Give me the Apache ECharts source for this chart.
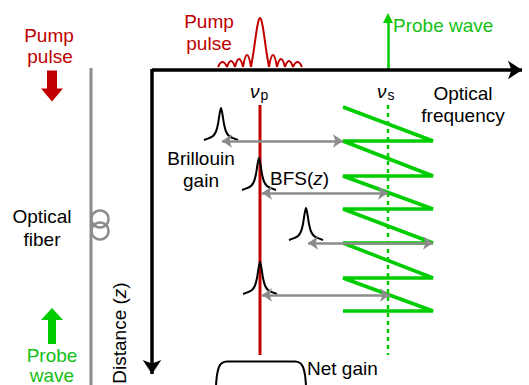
<!DOCTYPE html>
<html>
<head>
<meta charset="utf-8">
<script src="https://cdn.jsdelivr.net/npm/echarts@6/dist/echarts.min.js"></script>
<style>
html, body { margin: 0; padding: 0; background: #fff; }
#bfs { width: 529px; height: 385px; }
</style>
</head>
<body>
<div id="bfs"></div>
<script>
// sketch units = pixels of the figure, y grows downwards
var freqAxis = [[152, 70], [522, 70]];
var distAxis = [[152, 69], [152, 374]];
var fiber = [[91, 68], [91, 386]];
var fiberLoops = [[100, 219], [100, 231]];
var pumpArrowAt = [[52, 86]];
var probeArrowAt = [[52, 326]];
var probeLine = [[388, 69], [388, 18]];
var pumpFreq = [[260, 105], [260, 355]];
var probeFreq = [[388, 105], [388, 355]];

// probe wave sweeping in frequency along the fibre
var probeSweep = [
  [343, 107], [433, 141], [343, 141], [433, 176], [343, 176], [433, 209],
  [343, 209], [433, 243], [343, 243], [433, 278], [343, 278], [433, 311], [343, 311]
];

// BFS(z) arrows: from gain peak to probe position
var bfsArrows = [
  [[222, 141], [343, 141]],
  [[262, 193], [388, 193]],
  [[308, 243], [433, 243]],
  [[262, 295], [390, 295]]
];

// Brillouin gain spectra (centre, base) and their common profile
var gainCentres = [221, 259, 306, 260];
var gainBases = [140, 190, 240, 294];
var gainShape = [
  [-17, 0], [-12, 1.8], [-8, 4], [-5, 8.5], [-3, 16], [-1.5, 25.5], [0, 32],
  [1.5, 25.5], [3, 16], [5, 8.5], [8, 4], [12, 1.8], [17, 0]
];

// pump pulse spectrum, lobe by lobe
var pulseLobes = [
  [[218, 67], [222.5, 62], [227, 67]],
  [[227, 67], [231, 61], [235, 67]],
  [[235, 67], [239, 59], [243, 67]],
  [[243, 67], [247, 55], [251, 67]],
  [[251, 67], [253.5, 52], [255.8, 36], [258, 23], [260, 18], [262, 23], [264.2, 36], [266.5, 52], [269, 67]],
  [[269, 67], [273, 55], [277, 67]],
  [[277, 67], [281, 59], [285, 67]],
  [[285, 67], [289, 61], [293, 67]],
  [[293, 67], [297.5, 62], [302, 67]]
];

var netGain = [
  [216, 386], [217, 375], [219, 367], [222, 363], [227, 361.5],
  [295, 361.5], [300, 363], [303, 367], [305, 375], [306, 386]
];

var RED = '#c00000', GREEN = '#00cc00', GREEN_TXT = '#14bf14', GRAY = '#8c8c8c';
var FONT = '"Liberation Sans", Arial, sans-serif';

var gainData = [];
gainCentres.forEach(function (c, i) {
  gainShape.forEach(function (p) { gainData.push([c + p[0], gainBases[i] - p[1]]); });
  gainData.push([c, '-']);
});
var pulseData = [];
pulseLobes.forEach(function (lobe) {
  lobe.forEach(function (p) { pulseData.push(p); });
  pulseData.push([lobe[lobe.length - 1][0], '-']);
});

function txt(x, y, s, color, extra) {
  var style = { text: s, x: 0, y: 0, fill: color || '#000', font: '19px ' + FONT,
    align: 'center', verticalAlign: 'middle' };
  for (var k in extra || {}) style[k] = extra[k];
  return { type: 'text', x: x, y: y, style: style, z: 20 };
}

var chart = echarts.init(document.getElementById('bfs'), null, { renderer: 'svg' });
var option = {
  animation: false,
  grid: { left: 0, right: 0, top: 0, bottom: 0 },
  xAxis: { type: 'value', min: 0, max: 529, show: false },
  yAxis: { type: 'value', min: 0, max: 385, inverse: true, show: false },
  series: [
    { type: 'line', data: fiber, showSymbol: false, lineStyle: { color: GRAY, width: 3 } },
    { type: 'scatter', data: fiberLoops, symbol: 'circle', symbolSize: 17,
      itemStyle: { color: 'rgba(0,0,0,0)', borderColor: GRAY, borderWidth: 2.5, opacity: 1 } },
    { type: 'scatter', data: pumpArrowAt, symbolSize: [22, 31],
      symbol: 'path://M6,0 L16,0 L16,18 L22,18 L11,31 L0,18 L6,18 Z', itemStyle: { color: RED, opacity: 1 } },
    { type: 'scatter', data: probeArrowAt, symbolSize: [22, 36], symbolRotate: 180,
      symbol: 'path://M7,0 L15,0 L15,24 L22,24 L11,36 L0,24 L7,24 Z', itemStyle: { color: GREEN, opacity: 1 } },
    { type: 'line', data: pulseData, showSymbol: false, smooth: 0.5, connectNulls: false,
      lineStyle: { color: RED, width: 2 } },
    { type: 'line', data: pumpFreq, showSymbol: false, lineStyle: { color: RED, width: 3 } },
    { type: 'line', data: probeFreq, showSymbol: false, lineStyle: { color: GREEN, width: 2.5, type: [4, 4] } },
    { type: 'line', data: probeSweep, showSymbol: false, lineStyle: { color: GREEN, width: 3.5, join: 'bevel' } },
    { type: 'line', data: gainData, showSymbol: false, smooth: 0.3, connectNulls: false, z: 4,
      lineStyle: { color: '#000', width: 2 } },
    { type: 'line', data: netGain, showSymbol: false, smooth: 0.3, lineStyle: { color: '#000', width: 2 } },
    { type: 'lines', coordinateSystem: 'cartesian2d', symbol: ['arrow', 'arrow'], symbolSize: 10, z: 6,
      lineStyle: { color: GRAY, width: 2.5, opacity: 1 },
      data: bfsArrows.map(function (a) { return { coords: a }; }) },
    { type: 'lines', coordinateSystem: 'cartesian2d', symbol: ['none', 'triangle'], symbolSize: 10,
      lineStyle: { color: GREEN, width: 2.5, opacity: 1 }, data: [{ coords: probeLine }] },
    { type: 'lines', coordinateSystem: 'cartesian2d', symbol: ['none', 'arrow'], symbolSize: 14, z: 7,
      lineStyle: { color: '#000', width: 3.5, opacity: 1 },
      data: [{ coords: freqAxis }, { coords: distAxis }] }
  ],
  graphic: [
    txt(49, 35, 'Pump', RED), txt(50, 56, 'pulse', RED),
    txt(42, 216, 'Optical'), txt(42, 239, 'fiber'),
    txt(52, 365, 'Probe\nwave', GREEN_TXT, { lineHeight: 20 }),
    { type: 'text', x: 119, y: 333, rotation: Math.PI / 2, z: 20,
      style: { text: 'Distance ({i|z})', fill: '#000', font: '19px ' + FONT, align: 'center', verticalAlign: 'middle',
        rich: { i: { font: 'italic 19px ' + FONT, fill: '#000' } } } },
    txt(209, 21, 'Pump', RED), txt(209, 43, 'pulse', RED),
    txt(393, 25, 'Probe wave', GREEN_TXT, { align: 'left' }),
    { type: 'text', x: 250, y: 91, z: 20,
      style: { text: '{v|ν}{s|p}', align: 'left', verticalAlign: 'middle',
        rich: { v: { font: 'italic 19px ' + FONT, fill: '#000' }, s: { font: '14px ' + FONT, fill: '#000', padding: [8, 0, 0, 1] } } } },
    { type: 'text', x: 377, y: 91, z: 20,
      style: { text: '{v|ν}{s|s}', align: 'left', verticalAlign: 'middle',
        rich: { v: { font: 'italic 19px ' + FONT, fill: '#000' }, s: { font: '14px ' + FONT, fill: '#000', padding: [8, 0, 0, 1] } } } },
    txt(463, 93, 'Optical'), txt(463, 115, 'frequency'),
    txt(201, 158, 'Brillouin'), txt(201, 180, 'gain'),
    { type: 'text', x: 270, y: 178, z: 20,
      style: { text: 'BFS({i|z})', fill: '#000', font: '19px ' + FONT, align: 'left', verticalAlign: 'middle',
        rich: { i: { font: 'italic 19px ' + FONT, fill: '#000' } } } },
    txt(307, 368, 'Net gain', '#000', { align: 'left' })
  ]
};
chart.setOption(option);
window.addEventListener('resize', chart.resize);
</script>
</body>
</html>
